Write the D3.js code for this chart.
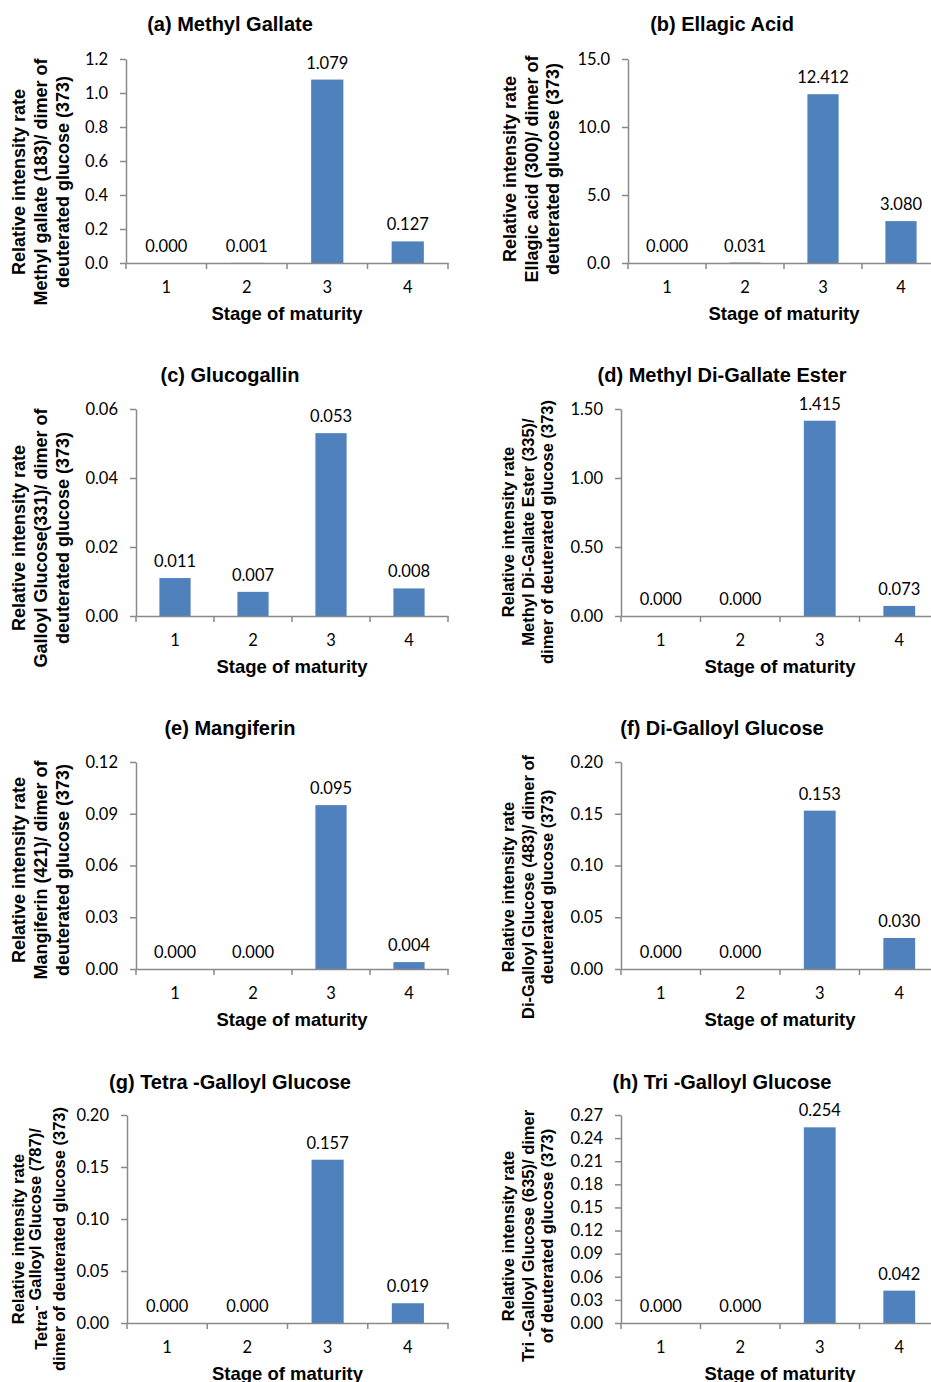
<!DOCTYPE html>
<html>
<head>
<meta charset="utf-8">
<script src="https://cdn.jsdelivr.net/npm/d3@7"></script>
<style>
  body { margin: 0; background: #fff; }
  .tick text { font-family: Lato, "Open Sans", sans-serif; font-size: 16.5px; fill: #000; }
  .title, .ytitle, .xtitle { font-family: "Liberation Sans", Arial, sans-serif; font-weight: bold; fill: #000; }
  .label { font-family: Lato, "Open Sans", sans-serif; font-size: 16.5px; fill: #000; }
</style>
</head>
<body>
<svg id="chart" width="931" height="1382"></svg>
<script>
// stages of maturity (categories)
const stages = ["1", "2", "3", "4"];

// relative intensity rates per compound
const methylGallate = [0.000, 0.001, 1.079, 0.127];
const ellagicAcid = [0.000, 0.031, 12.412, 3.080];
const glucogallin = [0.011, 0.007, 0.053, 0.008];
const methylDiGallate = [0.000, 0.000, 1.415, 0.073];
const mangiferin = [0.000, 0.000, 0.095, 0.004];
const diGalloyl = [0.000, 0.000, 0.153, 0.030];
const tetraGalloyl = [0.000, 0.000, 0.157, 0.019];
const triGalloyl = [0.000, 0.000, 0.254, 0.042];

// y tick values
const ticksA = [0, 0.2, 0.4, 0.6, 0.8, 1.0, 1.2];
const ticksB = [0, 5, 10, 15];
const ticksC = [0, 0.02, 0.04, 0.06];
const ticksD = [0, 0.5, 1.0, 1.5];
const ticksE = [0, 0.03, 0.06, 0.09, 0.12];
const ticksF = [0, 0.05, 0.10, 0.15, 0.20];
const ticksG = [0, 0.05, 0.10, 0.15, 0.20];
const ticksH = [0, 0.03, 0.06, 0.09, 0.12, 0.15, 0.18, 0.21, 0.24, 0.27];

const titles = [
    "(a) Methyl Gallate", "(b) Ellagic Acid", "(c) Glucogallin", "(d) Methyl Di-Gallate Ester",
    "(e) Mangiferin", "(f) Di-Galloyl Glucose", "(g) Tetra -Galloyl Glucose", "(h) Tri -Galloyl Glucose"
];

const yTitles = [
    ["Relative intensity rate", "Methyl gallate (183)/ dimer of", "deuterated glucose (373)"],
    ["Relative intensity rate", "Ellagic acid (300)/ dimer of", "deuterated glucose (373)"],
    ["Relative intensity rate", "Galloyl Glucose(331)/ dimer of", "deuterated glucose (373)"],
    ["Relative intensity rate", "Methyl Di-Gallate Ester (335)/", "dimer of deuterated glucose (373)"],
    ["Relative intensity rate", "Mangiferin (421)/ dimer of", "deuterated glucose (373)"],
    ["Relative intensity rate", "Di-Galloyl Glucose (483)/ dimer of", "deuterated glucose (373)"],
    ["Relative intensity rate", "Tetra|- Galloyl Glucose (787)/", "dimer of deuterated glucose (373)"],
    ["Relative intensity rate", "Tri -Galloyl Glucose (635)/ dimer", "of deuterated glucose (373)"]
];

const xTitle = "Stage of maturity";

// layout of each panel
let panels = [
    {values: methylGallate, ticks: ticksA, fmt: ".1f", ax: 126, w: 322, top: 59, bottom: 263, tx: 230, ty: 24, ytx: [19, 41, 63], yty: 182, ys: 18},
    {values: ellagicAcid, ticks: ticksB, fmt: ".1f", ax: 628, w: 312, top: 59, bottom: 263, tx: 722, ty: 24, ytx: [510, 532, 553], yty: 169, ys: 18},
    {values: glucogallin, ticks: ticksC, fmt: ".2f", ax: 136, w: 312, top: 409, bottom: 616, tx: 230, ty: 375, ytx: [19, 41, 63], yty: 538, ys: 18},
    {values: methylDiGallate, ticks: ticksD, fmt: ".2f", ax: 621, w: 318, top: 409, bottom: 616, tx: 722, ty: 375, ytx: [508, 528, 547], yty: 532, ys: 16.5},
    {values: mangiferin, ticks: ticksE, fmt: ".2f", ax: 136, w: 312, top: 762, bottom: 969, tx: 230, ty: 728, ytx: [19, 41, 63], yty: 870, ys: 18},
    {values: diGalloyl, ticks: ticksF, fmt: ".2f", ax: 621, w: 318, top: 762, bottom: 969, tx: 722, ty: 728, ytx: [508, 528, 547], yty: 887, ys: 16.5},
    {values: tetraGalloyl, ticks: ticksG, fmt: ".2f", ax: 127, w: 321, top: 1115, bottom: 1323, tx: 230, ty: 1082, ytx: [18, 41, 59], yty: 1239, ys: 16.5},
    {values: triGalloyl, ticks: ticksH, fmt: ".2f", ax: 621, w: 318, top: 1115, bottom: 1323, tx: 722, ty: 1082, ytx: [508, 528, 547], yty: 1236, ys: 16.5}
];

const axisColor = "#898989";
const barColor = "#4F81BD";

let svg = d3.select("#chart");
svg.append("rect").attr("width", 931).attr("height", 1382).attr("fill", "#fff");

panels.forEach((p, i) => {
    let g = svg.append("g");

    let x = d3.scaleBand()
        .domain(stages)
        .range([p.ax, p.ax + p.w])
        .paddingInner(0.6)
        .paddingOuter(0.3);

    let y = d3.scaleLinear()
        .domain([0, d3.max(p.ticks)])
        .range([p.bottom, p.top]);

    // bars
    g.selectAll("rect.bar")
        .data(p.values)
        .enter().append("rect")
        .attr("class", "bar")
        .attr("x", (d, j) => x(stages[j]))
        .attr("width", x.bandwidth())
        .attr("y", d => y(d))
        .attr("height", d => y(0) - y(d))
        .attr("fill", barColor);

    // y axis
    let yAxis = g.append("g")
        .attr("transform", `translate(${p.ax},0)`)
        .call(d3.axisLeft(y).tickValues(p.ticks).tickFormat(d3.format(p.fmt)).tickSize(6).tickSizeOuter(0).tickPadding(12));
    yAxis.selectAll("path, line").attr("stroke", axisColor).attr("stroke-width", 1.5);

    // x axis with labels
    let xAxis = g.append("g")
        .attr("transform", `translate(0,${p.bottom})`)
        .call(d3.axisBottom(x).tickSize(0).tickSizeOuter(0).tickPadding(18.3));
    xAxis.select("path").attr("stroke", axisColor).attr("stroke-width", 1.5);

    // category boundary ticks
    let bounds = stages.map(s => x(s) - x.step() * x.paddingOuter()).concat([p.ax + p.w]);
    g.selectAll("line.bound")
        .data(bounds)
        .enter().append("line")
        .attr("x1", d => d).attr("x2", d => d)
        .attr("y1", p.bottom).attr("y2", p.bottom + 6)
        .attr("stroke", axisColor).attr("stroke-width", 1.5);

    // data labels
    g.selectAll("text.label")
        .data(p.values)
        .enter().append("text")
        .attr("class", "label")
        .attr("x", (d, j) => x(stages[j]) + x.bandwidth() / 2)
        .attr("y", d => y(d) - 11)
        .attr("text-anchor", "middle")
        .text(d => d3.format(".3f")(d));

    // panel title
    g.append("text")
        .attr("class", "title")
        .attr("x", p.tx)
        .attr("y", p.ty + 7)
        .attr("text-anchor", "middle")
        .style("font-size", "20px")
        .text(titles[i]);

    // x title
    g.append("text")
        .attr("class", "xtitle")
        .attr("x", p.ax + p.w / 2)
        .attr("y", p.bottom + 57)
        .attr("text-anchor", "middle")
        .style("font-size", "18.5px")
        .text(xTitle);

    // y title, three rotated lines
    yTitles[i].forEach((line, k) => {
        let t = g.append("text")
            .attr("class", "ytitle")
            .attr("transform", `translate(${p.ytx[k]},${p.yty}) rotate(-90)`)
            .attr("text-anchor", "middle")
            .attr("dy", "0.35em")
            .style("font-size", p.ys + "px");
        if (line.includes("|")) {
            let parts = line.split("|");
            t.append("tspan").attr("dy", 6).text(parts[0]);
            t.append("tspan").attr("dy", -6).text(parts[1]);
        } else {
            t.text(line);
        }
    });
});
</script>
</body>
</html>
